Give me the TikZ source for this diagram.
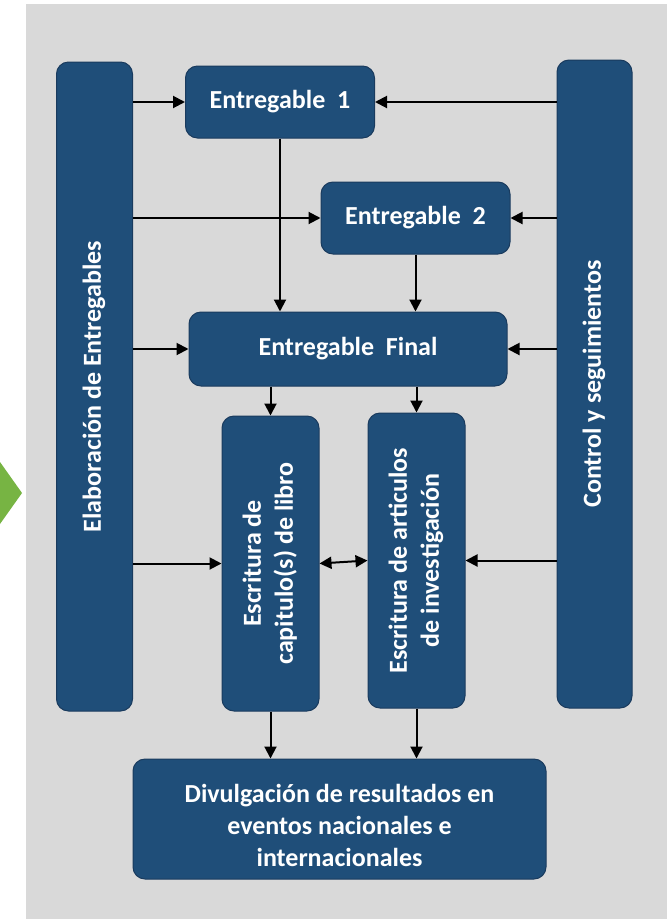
\documentclass[tikz,border=0pt]{standalone}
\usepackage{fontspec}
\setmainfont{Carlito}
\usetikzlibrary{arrows.meta}

\definecolor{azul}{HTML}{1F4E79}
\definecolor{borde}{HTML}{1A3B5E}
\definecolor{fondo}{HTML}{D9D9D9}
\definecolor{verde}{HTML}{77B443}

\newcommand{\vtexto}[1]{\rotatebox{90}{\begin{tabular}{@{}c@{}}#1\end{tabular}}}

\tikzset{
  caja/.style={draw=borde, line width=1pt, fill=azul, rounded corners=12pt,
    text=white, font=\fontsize{26}{32}\selectfont\bfseries, align=center, inner sep=0pt},
  flecha/.style={line width=2pt, -{Triangle[length=12pt,width=12pt]}},
  dobleflecha/.style={line width=2pt, {Triangle[length=12pt,width=12pt]}-{Triangle[length=12pt,width=12pt]}}
}

\begin{document}
\begin{tikzpicture}[x=1pt,y=-1pt]
            \fill[white] (0,0) rectangle (667,919);
            \useasboundingbox (0,0) rectangle (667,919);
            \fill[fondo] (26,4) rectangle (667,919);
            \fill[verde] (0,462) -- (22,493) -- (0,524) -- cycle;

            % columnas laterales
            \node[caja, minimum width=76pt, minimum height=649pt] (elab) at (94.5,386.5)
                {\vtexto{Elaboración de Entregables}};
            \node[caja, minimum width=75pt, minimum height=648pt] (ctrl) at (594.5,384)
                {\vtexto{Control y seguimientos}};

            % entregables
            \node[caja, minimum width=189pt, minimum height=72pt] (e1) at (280,102) {Entregable\ \ 1};
            \node[caja, minimum width=189pt, minimum height=72pt] (e2) at (415.5,218) {Entregable\ \ 2};
            \node[caja, minimum width=318pt, minimum height=74pt] (ef) at (348,349) {Entregable\ \ Final};

            \node[caja, minimum width=97pt, minimum height=295pt] (cap) at (270.5,563.5)
                {\vtexto{Escritura de\\capitulo(s) de libro}};
            \node[caja, minimum width=97pt, minimum height=295pt] (art) at (416.5,560.5)
                {\vtexto{Escritura de articulos\\de investigación}};

            \node[caja, minimum width=413pt, minimum height=120pt] (div) at (339.5,819)
                {\raisebox{-9pt}[\height][\depth]{\begin{tabular}{@{}c@{}}Divulgación de resultados en\\
                eventos nacionales e\\internacionales\end{tabular}}};

            % conexiones
            \draw[flecha] (elab.east |- e1.west) -- (e1.west);
            \draw[flecha] (ctrl.west |- e1.east) -- (e1.east);
            \draw[flecha] (elab.east |- e2.west) -- (e2.west);
            \draw[flecha] (ctrl.west |- e2.east) -- (e2.east);
            \draw[flecha] (e1.south) -- (e1.south |- ef.north);
            \draw[flecha] (e2.south) -- (e2.south |- ef.north);
            \draw[flecha] (elab.east |- ef.west) -- (ef.west);
            \draw[flecha] (ctrl.west |- ef.east) -- (ef.east);
            \draw[flecha] (ef.south -| cap.north) -- (cap.north);
            \draw[flecha] (ef.south -| art.north) -- (art.north);
            \draw[flecha] (elab.east |- cap.west) -- (cap.west);
            \draw[flecha] (ctrl.west |- art.east) -- (art.east);
            \draw[dobleflecha] (cap.east) -- (art.west);
            \draw[flecha] (cap.south) -- (cap.south |- div.north);
            \draw[flecha] (art.south) -- (art.south |- div.north);
        \end{tikzpicture}
\end{document}
